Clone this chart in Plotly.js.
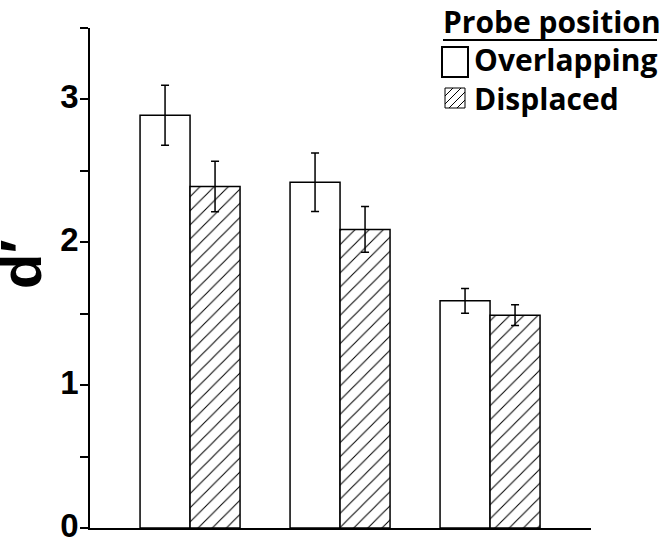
<!DOCTYPE html>
<html>
<head>
<meta charset="utf-8">
<script src="https://cdn.plot.ly/plotly-3.0.1.min.js"></script>
<style>
  body { margin: 0; background: #fff; }
  #chart { width: 668px; height: 546px; }
</style>
</head>
<body>
<div id="chart"></div>
<script>
// three conditions, two probe positions
var conditions = [0, 1, 2];
var overlapping = [2.89, 2.42, 1.59];
var overlappingErr = [0.21, 0.205, 0.086];
var displaced = [2.39, 2.09, 1.49];
var displacedErr = [0.177, 0.16, 0.073];
var seriesNames = ['Overlapping', 'Displaced'];
var legendTitle = 'Probe position';
var yTitle = 'd\u2032';
var yTicks = [0, 1, 2, 3];

var trace1 = {
    x: conditions,
    y: overlapping,
    type: 'bar',
    name: seriesNames[0],
    marker: {color: 'white', line: {color: 'black', width: 1.5}},
    error_y: {type: 'data', array: overlappingErr, color: 'black', thickness: 1.5, width: 4}
};

var trace2 = {
    x: conditions,
    y: displaced,
    type: 'bar',
    name: seriesNames[1],
    marker: {
        color: 'white',
        line: {color: 'black', width: 1.5},
        pattern: {shape: '/', fgcolor: 'black', bgcolor: 'white', size: 10, solidity: 0.1}
    },
    error_y: {type: 'data', array: displacedErr, color: 'black', thickness: 1.5, width: 4}
};

// legend is drawn by hand so the swatches get their real size
var L = 90, R = 591, T = 28, B = 528;
function px(x) { return (x - L) / (R - L); }
function py(y) { return (B - y) / (B - T); }

function hatchPath(x0, y0, x1, y1, step) {
    var d = '';
    for (var c = x0 + y0 + step; c < x1 + y1; c += step) {
        var ax = Math.max(x0, c - y1), bx = Math.min(x1, c - y0);
        d += 'M' + px(ax) + ',' + py(c - ax) + 'L' + px(bx) + ',' + py(c - bx);
    }
    return d;
}

var legendFont = {family: 'Open Sans', size: 30, color: 'black', weight: 'bold'};

var layout = {
    width: 668,
    height: 546,
    margin: {l: L, r: 668 - R, t: T, b: 546 - B},
    paper_bgcolor: 'white',
    plot_bgcolor: 'white',
    showlegend: false,
    barmode: 'group',
    bargap: 1 / 3,
    bargroupgap: 0,
    xaxis: {
        range: [-0.667, 2.673],
        showticklabels: false,
        ticks: '',
        showgrid: false,
        zeroline: false,
        showline: true,
        linecolor: 'black',
        linewidth: 2
    },
    yaxis: {
        range: [0, 3.5],
        tickmode: 'array',
        tickvals: yTicks,
        ticks: 'outside',
        ticklen: 8,
        tickwidth: 1.5,
        tickcolor: 'black',
        ticklabeloverflow: 'allow',
        ticklabelshift: -3,
        ticklabelstandoff: -5,
        minor: {dtick: 0.5, tick0: 0, ticks: 'outside', ticklen: 8, tickwidth: 1.5, tickcolor: 'black'},
        tickfont: {family: 'Liberation Sans', size: 33, color: 'black', weight: 'bold'},
        showgrid: false,
        zeroline: false,
        showline: true,
        linecolor: 'black',
        linewidth: 1.5
    },
    annotations: [
        {text: yTitle, xref: 'paper', yref: 'paper', x: px(20), y: py(265), textangle: -90,
         xanchor: 'center', yanchor: 'middle', showarrow: false,
         font: {family: 'Liberation Sans', size: 58, color: 'black', weight: 'bold'}},
        {text: legendTitle, xref: 'paper', yref: 'paper', x: px(441), y: py(22),
         xanchor: 'left', yanchor: 'middle', showarrow: false,
         font: {family: 'Open Sans', size: 30, color: 'black', weight: 'bold'}},
        {text: seriesNames.join('<br>'), xref: 'paper', yref: 'paper', x: px(472), y: py(79),
         xanchor: 'left', yanchor: 'middle', align: 'left', showarrow: false, font: legendFont}
    ],
    shapes: [
        {type: 'line', xref: 'paper', yref: 'paper', x0: px(443), x1: px(657), y0: py(40), y1: py(40),
         line: {color: 'black', width: 2}},
        {type: 'rect', xref: 'paper', yref: 'paper', x0: px(442), x1: px(468), y0: py(77), y1: py(47),
         line: {color: 'black', width: 2}, fillcolor: 'white'},
        {type: 'rect', xref: 'paper', yref: 'paper', x0: px(445), x1: px(465), y0: py(108), y1: py(88),
         line: {color: 'black', width: 1}, fillcolor: 'white'},
        {type: 'path', xref: 'paper', yref: 'paper', path: hatchPath(445, 88, 465, 108, 8),
         line: {color: 'black', width: 1}}
    ]
};

Plotly.newPlot('chart', [trace1, trace2], layout, {displayModeBar: false});
</script>
</body>
</html>
